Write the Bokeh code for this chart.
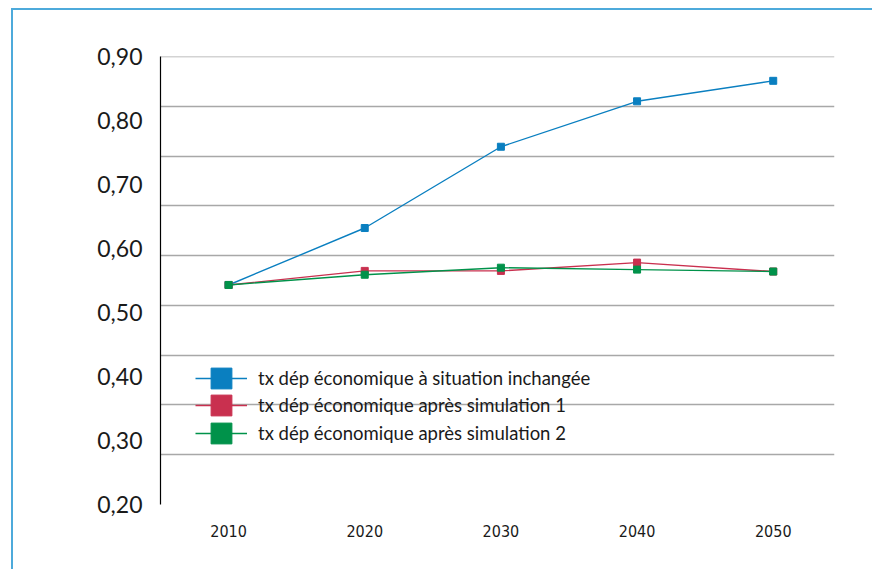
from bokeh.plotting import figure
from bokeh.models import Range1d, FixedTicker, CustomJSTickFormatter, Legend, LegendItem
from bokeh.embed import file_html
from bokeh.resources import INLINE

# Taux de dépendance économique, projections par décennie
years = [2010, 2020, 2030, 2040, 2050]
taux_inchange = [0.543, 0.632, 0.759, 0.830, 0.862]
taux_sim1 = [0.543, 0.565, 0.565, 0.578, 0.564]
taux_sim2 = [0.543, 0.559, 0.570, 0.567, 0.564]

series_labels = [
    "tx dép économique à situation inchangée",
    "tx dép économique après simulation 1",
    "tx dép économique après simulation 2",
]
y_ticks = [0.20, 0.30, 0.40, 0.50, 0.60, 0.70, 0.80, 0.90]

BLUE = "#0A7FC0"
RED = "#C9304F"
GREEN = "#00924A"
FRAME_BLUE = "#4DAADB"

Y_MIN, Y_MAX = 0.20, 0.90

p = figure(
    width=859, height=559,
    x_range=Range1d(2005, 2054.5),
    y_range=Range1d(Y_MIN, Y_MAX),
    output_backend="svg",
    toolbar_location=None,
    min_border_left=147, min_border_right=38,
    min_border_top=46, min_border_bottom=65,
)
p.outline_line_color = None
p.background_fill_color = "white"
p.border_fill_color = "white"
# outer blue frame (only its top and left edges fall inside the page)
p.styles = {
    "position": "absolute",
    "left": "13px",
    "top": "10px",
    "outline": f"2px solid {FRAME_BLUE}",
    "overflow": "visible",
}

# horizontal grid: ten evenly spaced lines over the value range
grid_ticks = [Y_MIN + k * (Y_MAX - Y_MIN) / 9 for k in range(10)]
p.xgrid.visible = False
p.ygrid.ticker = FixedTicker(ticks=grid_ticks)
p.ygrid.grid_line_color = "#A8A8A8"
p.ygrid.grid_line_width = 1.6

# y axis with French decimal comma
p.yaxis.ticker = FixedTicker(ticks=y_ticks)
p.yaxis.formatter = CustomJSTickFormatter(code="return tick.toFixed(2).replace('.', ',');")
p.yaxis.major_tick_line_color = None
p.yaxis.minor_tick_line_color = None
p.yaxis.axis_line_color = "#000000"
p.yaxis.axis_line_width = 1.2
p.yaxis.major_label_text_font = "Lato"
p.yaxis.major_label_text_font_size = "23px"
p.yaxis.major_label_text_color = "#1A1A1A"
p.yaxis.major_label_standoff = 12

# x axis: decades
p.xaxis.ticker = FixedTicker(ticks=years)
p.xaxis.axis_line_color = None
p.xaxis.major_tick_line_color = None
p.xaxis.minor_tick_line_color = None
p.xaxis.major_label_text_font = "Liberation Sans Narrow, DejaVu Sans Condensed, sans-serif"
p.xaxis.major_label_text_font_size = "16px"
p.xaxis.major_label_text_color = "#1A1A1A"
p.xaxis.major_label_standoff = 14

renderers = []
for vals, color in zip([taux_inchange, taux_sim1, taux_sim2], [BLUE, RED, GREEN]):
    ln = p.line(years, vals, line_color=color, line_width=1.4)
    sc = p.scatter(years, vals, marker="square", size=7,
                   fill_color=color, line_color=color)
    renderers.append((ln, sc))

# one legend box per row so the rows can sit close together
legend_offsets = [100, 73, 45]
for (ln, sc), label, off in zip(renderers, series_labels, legend_offsets):
    legend = Legend(
        items=[LegendItem(label=label, renderers=[ln, sc])],
        location=(35, off),
        glyph_width=52, glyph_height=52,
        padding=0, margin=0,
        border_line_color=None, background_fill_alpha=0,
        label_standoff=11,
        label_text_font="Lato",
        label_text_font_size="18.5px",
        label_text_color="#1A1A1A",
    )
    p.add_layout(legend)

open("out.html", "w").write(file_html(p, INLINE))
